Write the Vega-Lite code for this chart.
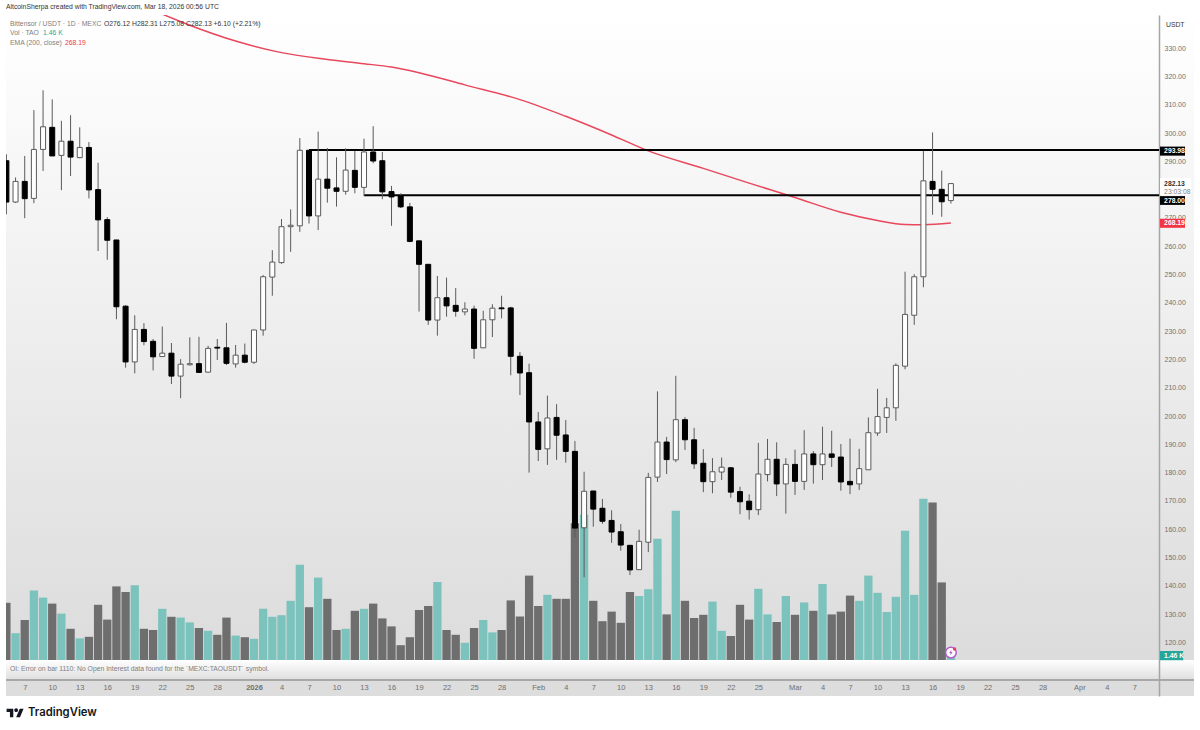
{
"$schema":"https://vega.github.io/schema/vega-lite/v6.json",
"autosize":"none",
"padding":{"left":6,"top":15,"right":6,"bottom":34},
"width":1188,
"height":681,
"background":"#ffffff",
"config":{
"font":"Liberation Sans",
"view":{"stroke":null,"fill":{"gradient":"linear","x1":0,"y1":0,"x2":0,"y2":1,"stops":[
{"offset":0,"color":"#ffffff"},
{"offset":0.947,"color":"#dcdcdc"},
{"offset":0.947,"color":"#ffffff"},
{"offset":0.975,"color":"#e0e0e0"},
{"offset":0.975,"color":"#a8a8a8"},
{"offset":0.978,"color":"#a8a8a8"},
{"offset":0.978,"color":"#dddddd"},
{"offset":1,"color":"#dddddd"}
]}}
},
"title":{"text":"AltcoinSherpa created with TradingView.com, Mar 18, 2026 00:56 UTC","anchor":"start","frame":"group","offset":4.5,"fontSize":6.8,"fontWeight":"normal","color":"#333333"},
"datasets":{
"candles":[
{"date":"2025-12-05","open":290.2,"high":292.5,"low":271.3,"close":275.6,"vol":14.3},
{"date":"2025-12-06","open":275.6,"high":284.3,"low":275.3,"close":282.9,"vol":6.7},
{"date":"2025-12-07","open":282.9,"high":291.9,"low":269.9,"close":276.8,"vol":10},
{"date":"2025-12-08","open":276.9,"high":308.1,"low":275.2,"close":294.2,"vol":17.4},
{"date":"2025-12-09","open":294.2,"high":315.1,"low":286.6,"close":302.2,"vol":15.6},
{"date":"2025-12-10","open":302,"high":311.9,"low":291.9,"close":291.9,"vol":14.1},
{"date":"2025-12-11","open":292.1,"high":304.3,"low":279.8,"close":297.1,"vol":11.6},
{"date":"2025-12-12","open":297.1,"high":306.3,"low":284.8,"close":291.5,"vol":7.8},
{"date":"2025-12-13","open":291.3,"high":302,"low":291.1,"close":294.9,"vol":5.4},
{"date":"2025-12-14","open":294.9,"high":296.8,"low":276.9,"close":279.9,"vol":5.8},
{"date":"2025-12-15","open":280,"high":289.5,"low":258.3,"close":269.3,"vol":13.8},
{"date":"2025-12-16","open":269.4,"high":270.3,"low":255.2,"close":262.1,"vol":10.1},
{"date":"2025-12-17","open":262.2,"high":262.2,"low":234.2,"close":238.6,"vol":18.4},
{"date":"2025-12-18","open":238.8,"high":239.2,"low":217.1,"close":219.1,"vol":17},
{"date":"2025-12-19","open":219.1,"high":235.6,"low":215.1,"close":230.6,"vol":18.7},
{"date":"2025-12-20","open":230.6,"high":232.8,"low":225,"close":226.3,"vol":7.8},
{"date":"2025-12-21","open":226.4,"high":227.2,"low":216.1,"close":220.9,"vol":7.5},
{"date":"2025-12-22","open":221,"high":231.6,"low":220.9,"close":222.2,"vol":12.8},
{"date":"2025-12-23","open":222.2,"high":225.8,"low":211.3,"close":214.1,"vol":10.8},
{"date":"2025-12-24","open":214.1,"high":220.1,"low":206.3,"close":218.3,"vol":10.6},
{"date":"2025-12-25","open":218.1,"high":227.8,"low":217.9,"close":218.5,"vol":9.4},
{"date":"2025-12-26","open":218.5,"high":228,"low":215.2,"close":215.4,"vol":8},
{"date":"2025-12-27","open":215.5,"high":224.8,"low":215.4,"close":223.9,"vol":7.3},
{"date":"2025-12-28","open":224.3,"high":227.2,"low":219.8,"close":224,"vol":6.3},
{"date":"2025-12-29","open":224.1,"high":232.9,"low":218,"close":218.6,"vol":10.6},
{"date":"2025-12-30","open":218.4,"high":225.1,"low":217.1,"close":221.5,"vol":6.1},
{"date":"2025-12-31","open":221.5,"high":225.6,"low":218.6,"close":219,"vol":5.7},
{"date":"2026-01-01","open":219,"high":230.5,"low":218.4,"close":230.4,"vol":5.3},
{"date":"2026-01-02","open":230.4,"high":249.8,"low":228.4,"close":249.2,"vol":12.8},
{"date":"2026-01-03","open":249.1,"high":258.6,"low":242.5,"close":254.4,"vol":10.8},
{"date":"2026-01-04","open":254.2,"high":269.6,"low":253.8,"close":266.9,"vol":11.2},
{"date":"2026-01-05","open":266.9,"high":273,"low":258,"close":267.4,"vol":14.8},
{"date":"2026-01-06","open":267.2,"high":298.2,"low":265.1,"close":293.9,"vol":23.8},
{"date":"2026-01-07","open":293.9,"high":293.9,"low":268,"close":270.7,"vol":13.2},
{"date":"2026-01-08","open":270.7,"high":300.5,"low":265.7,"close":283.7,"vol":20.6},
{"date":"2026-01-09","open":283.7,"high":294.7,"low":275.4,"close":280.5,"vol":15.3},
{"date":"2026-01-10","open":280.6,"high":291.4,"low":274,"close":279.4,"vol":7.5},
{"date":"2026-01-11","open":279.4,"high":294.6,"low":278.2,"close":286.9,"vol":7.8},
{"date":"2026-01-12","open":286.8,"high":293.7,"low":278.7,"close":280.8,"vol":12.3},
{"date":"2026-01-13","open":280.8,"high":298,"low":277.7,"close":293.3,"vol":12.8},
{"date":"2026-01-14","open":293.3,"high":302.4,"low":289.3,"close":290.1,"vol":14.1},
{"date":"2026-01-15","open":290.2,"high":293.3,"low":276.6,"close":279.2,"vol":10.4},
{"date":"2026-01-16","open":279.3,"high":281.3,"low":267.2,"close":277.4,"vol":8.4},
{"date":"2026-01-17","open":277.8,"high":278.7,"low":273.5,"close":273.9,"vol":3.7},
{"date":"2026-01-18","open":273.9,"high":275.3,"low":261.4,"close":261.7,"vol":5.7},
{"date":"2026-01-19","open":261.9,"high":261.9,"low":236.9,"close":253.6,"vol":12.5},
{"date":"2026-01-20","open":253.6,"high":253.7,"low":232.2,"close":233.9,"vol":13.5},
{"date":"2026-01-21","open":233.9,"high":249.5,"low":228.4,"close":241.8,"vol":19.5},
{"date":"2026-01-22","open":241.8,"high":248.9,"low":235.1,"close":238.9,"vol":7.5},
{"date":"2026-01-23","open":239.1,"high":245.2,"low":235.1,"close":237,"vol":6.3},
{"date":"2026-01-24","open":236.8,"high":240.2,"low":235.6,"close":237.8,"vol":4.3},
{"date":"2026-01-25","open":237.8,"high":239,"low":220.2,"close":223.9,"vol":8},
{"date":"2026-01-26","open":224.1,"high":237.2,"low":224,"close":234,"vol":10},
{"date":"2026-01-27","open":234,"high":239.5,"low":227.9,"close":238.1,"vol":6.9},
{"date":"2026-01-28","open":238.2,"high":242.5,"low":234.5,"close":237.9,"vol":7.5},
{"date":"2026-01-29","open":238.2,"high":238.6,"low":214.4,"close":221.1,"vol":14.9},
{"date":"2026-01-30","open":221.1,"high":222.6,"low":207.4,"close":215.2,"vol":10.9},
{"date":"2026-01-31","open":215.3,"high":218.5,"low":180,"close":197.9,"vol":21.1},
{"date":"2026-02-01","open":197.9,"high":201.4,"low":184.1,"close":188.2,"vol":13.5},
{"date":"2026-02-02","open":188.4,"high":207.2,"low":182.7,"close":199.3,"vol":16.3},
{"date":"2026-02-03","open":199.5,"high":204.2,"low":184.5,"close":193.2,"vol":15.3},
{"date":"2026-02-04","open":193.3,"high":198.6,"low":183.5,"close":187.5,"vol":15.3},
{"date":"2026-02-05","open":187.5,"high":191.2,"low":157.1,"close":160.4,"vol":34.2},
{"date":"2026-02-06","open":160.5,"high":180.3,"low":143,"close":173.4,"vol":36.3},
{"date":"2026-02-07","open":173.5,"high":173.5,"low":160.9,"close":167.1,"vol":14.8},
{"date":"2026-02-08","open":167.4,"high":170.7,"low":161.9,"close":162.8,"vol":9.7},
{"date":"2026-02-09","open":163.1,"high":166.7,"low":155.2,"close":159,"vol":12.1},
{"date":"2026-02-10","open":159.1,"high":161.8,"low":152.4,"close":154.4,"vol":9.3},
{"date":"2026-02-11","open":154.3,"high":154.4,"low":143.8,"close":145.6,"vol":17},
{"date":"2026-02-12","open":145.7,"high":159.8,"low":145.6,"close":155.7,"vol":16},
{"date":"2026-02-13","open":155.4,"high":179.9,"low":151.9,"close":178.3,"vol":17.7},
{"date":"2026-02-14","open":178.4,"high":208.7,"low":176.7,"close":190.8,"vol":30.3},
{"date":"2026-02-15","open":190.8,"high":192.6,"low":179.5,"close":184.6,"vol":11.4},
{"date":"2026-02-16","open":184.5,"high":214.2,"low":183.7,"close":198.7,"vol":37.3},
{"date":"2026-02-17","open":198.7,"high":199.6,"low":188,"close":191.6,"vol":14.8},
{"date":"2026-02-18","open":191.6,"high":195.8,"low":181.3,"close":183.1,"vol":10.5},
{"date":"2026-02-19","open":183.3,"high":188.3,"low":173.1,"close":176.8,"vol":11.3},
{"date":"2026-02-20","open":176.8,"high":185.1,"low":172.7,"close":180.3,"vol":14.6},
{"date":"2026-02-21","open":180.2,"high":185.3,"low":177.4,"close":181.9,"vol":7.3},
{"date":"2026-02-22","open":181.7,"high":182,"low":171.1,"close":173.1,"vol":6},
{"date":"2026-02-23","open":173.3,"high":175,"low":165.3,"close":169.7,"vol":13.8},
{"date":"2026-02-24","open":169.9,"high":172.3,"low":163.4,"close":166.9,"vol":10.1},
{"date":"2026-02-25","open":166.9,"high":190.5,"low":165,"close":179.5,"vol":17.8},
{"date":"2026-02-26","open":179.3,"high":191.9,"low":176.9,"close":184.7,"vol":11.4},
{"date":"2026-02-27","open":184.7,"high":190.7,"low":171.7,"close":176,"vol":9.5},
{"date":"2026-02-28","open":176,"high":185.1,"low":165.5,"close":182.9,"vol":16},
{"date":"2026-03-01","open":182.9,"high":188.1,"low":172.1,"close":176.9,"vol":11.3},
{"date":"2026-03-02","open":176.9,"high":195,"low":173.9,"close":186.6,"vol":14.4},
{"date":"2026-03-03","open":186.6,"high":187.6,"low":176.1,"close":182.8,"vol":12.3},
{"date":"2026-03-04","open":182.8,"high":196.2,"low":177.4,"close":186.6,"vol":19},
{"date":"2026-03-05","open":186.6,"high":194.8,"low":182,"close":185.4,"vol":11.4},
{"date":"2026-03-06","open":185.5,"high":190.1,"low":173.6,"close":176.7,"vol":12.1},
{"date":"2026-03-07","open":176.9,"high":192,"low":172.4,"close":175.7,"vol":16.1},
{"date":"2026-03-08","open":176,"high":188.4,"low":173.9,"close":181.4,"vol":14.8},
{"date":"2026-03-09","open":181,"high":199.5,"low":181,"close":194.1,"vol":21.1},
{"date":"2026-03-10","open":194,"high":209.6,"low":193,"close":199.8,"vol":16.8},
{"date":"2026-03-11","open":199.5,"high":206.4,"low":194,"close":202.9,"vol":12},
{"date":"2026-03-12","open":202.9,"high":218.6,"low":198.3,"close":217.9,"vol":15.8},
{"date":"2026-03-13","open":217.6,"high":251,"low":216.5,"close":235.9,"vol":32.3},
{"date":"2026-03-14","open":235.6,"high":250.1,"low":232.2,"close":249.2,"vol":16.3},
{"date":"2026-03-15","open":249.2,"high":293.6,"low":245.5,"close":283.1,"vol":40.3},
{"date":"2026-03-16","open":282.9,"high":300.2,"low":271.1,"close":280.1,"vol":39.4},
{"date":"2026-03-17","open":280.1,"high":286.7,"low":270.4,"close":275.7,"vol":19.4},
{"date":"2026-03-18","open":276.12,"high":282.31,"low":275.08,"close":282.13,"vol":1.46}
],
"ema":[
{"date":"2025-12-22","ema":342},
{"date":"2025-12-25","ema":338.1},
{"date":"2025-12-30","ema":332.5},
{"date":"2026-01-04","ema":328.4},
{"date":"2026-01-09","ema":326},
{"date":"2026-01-13","ema":324.5},
{"date":"2026-01-16","ema":323.3},
{"date":"2026-01-19","ema":321.3},
{"date":"2026-01-24","ema":317},
{"date":"2026-01-30","ema":311.8},
{"date":"2026-02-04","ema":305.9},
{"date":"2026-02-09","ema":299.3},
{"date":"2026-02-13","ema":293.7},
{"date":"2026-02-19","ema":287.5},
{"date":"2026-02-24","ema":282.3},
{"date":"2026-03-01","ema":277.2},
{"date":"2026-03-06","ema":272},
{"date":"2026-03-10","ema":269.1},
{"date":"2026-03-13","ema":267.7},
{"date":"2026-03-15","ema":267.6},
{"date":"2026-03-18","ema":268.19}
],
"levels":[
{"date":"2026-01-07","end":"2026-04-09T16:48:00Z","level":293.98},
{"date":"2026-01-13","end":"2026-04-09T16:48:00Z","level":278}
],
"tags":[
{"date":"2026-04-09T19:12:00Z","end":"2026-04-13T04:48:00Z","top":284.1,"bottom":278.1,"kind":"clock"},
{"date":"2026-04-09T19:12:00Z","end":"2026-04-12T12:43:00Z","top":295.2,"bottom":292,"kind":"level"},
{"date":"2026-04-09T19:12:00Z","end":"2026-04-12T12:43:00Z","top":277.7,"bottom":274.6,"kind":"level"},
{"date":"2026-04-09T19:12:00Z","end":"2026-04-12T12:43:00Z","top":269.7,"bottom":266.5,"kind":"ema"},
{"date":"2026-04-09T19:12:00Z","end":"2026-04-12T08:00:00Z","top":116.96,"bottom":113.7,"kind":"vol"}
],
"tagText":[
{"date":"2026-04-10T06:00:00Z","price":293.6,"label":"293.98","kind":"light"},
{"date":"2026-04-10T06:00:00Z","price":275.9,"label":"278.00","kind":"light"},
{"date":"2026-04-10T06:00:00Z","price":268.1,"label":"268.19","kind":"light"},
{"date":"2026-04-10T06:00:00Z","price":115.3,"label":"1.46 K","kind":"light"},
{"date":"2026-04-10T06:00:00Z","price":282,"label":"282.13","kind":"dark"}
],
"notes":[
{"date":"2025-12-05T09:36:00Z","price":338.5,"label":"Bittensor / USDT · 1D · MEXC","kind":"muted"},
{"date":"2025-12-15T15:30:00Z","price":338.5,"label":"O276.12  H282.31  L275.08  C282.13  +6.10 (+2.21%)","kind":"dark"},
{"date":"2025-12-05T09:36:00Z","price":335.2,"label":"Vol · TAO","kind":"muted"},
{"date":"2025-12-09T00:00:00Z","price":335.2,"label":"1.46 K","kind":"teal"},
{"date":"2025-12-05T09:36:00Z","price":331.7,"label":"EMA (200, close)","kind":"muted"},
{"date":"2025-12-11T09:30:00Z","price":331.7,"label":"268.19","kind":"red"},
{"date":"2026-04-10T11:00:00Z","price":338.2,"label":"USDT","kind":"dark"},
{"date":"2026-04-10T06:00:00Z","price":279.2,"label":"23:03:08","kind":"muted"},
{"date":"2025-12-05T09:36:00Z","price":110.6,"label":"OI: Error on bar 1110: No Open Interest data found for the `MEXC:TAOUSDT` symbol.","kind":"muted"}
]
},
"resolve":{"scale":{"y":"independent"}},
"encoding":{
"x":{"field":"date","type":"temporal","title":null,
"scale":{"type":"utc","padding":0,"domain":["2025-12-04T23:00:00Z","2026-04-13T12:14:00Z"]},
"axis":{"orient":"bottom","offset":-16,"domain":false,"ticks":false,"grid":false,"labelPadding":3,"labelFontSize":7.5,"labelColor":"#707070","labelOverlap":false,"labelFlush":false,
"labelFontWeight":{"expr":"utcmonth(datum.value)==0&&utcdate(datum.value)==1?'bold':'normal'"},
"labelExpr":"utcdate(datum.value)==1?(utcmonth(datum.value)==0?utcyear(datum.value)+'':utcFormat(datum.value,'%b')):utcdate(datum.value)+''",
"values":["2025-12-07","2025-12-10","2025-12-13","2025-12-16","2025-12-19","2025-12-22","2025-12-25","2025-12-28","2026-01-01","2026-01-04","2026-01-07","2026-01-10","2026-01-13","2026-01-16","2026-01-19","2026-01-22","2026-01-25","2026-01-28","2026-02-01","2026-02-04","2026-02-07","2026-02-10","2026-02-13","2026-02-16","2026-02-19","2026-02-22","2026-02-25","2026-03-01","2026-03-04","2026-03-07","2026-03-10","2026-03-13","2026-03-16","2026-03-19","2026-03-22","2026-03-25","2026-03-28","2026-04-01","2026-04-04","2026-04-07"]}}
},
"layer":[
{"data":{"name":"candles"},
"mark":{"type":"bar","size":8.3,"clip":true},
"encoding":{
"y":{"field":"vol","type":"quantitative","title":null,"axis":null,"scale":{"domain":[-9,161.25],"nice":false,"zero":false}},
"y2":{"datum":0},
"color":{"condition":{"test":"datum.close>=datum.open","value":"#7cc3bd"},"value":"#6e6e6e"}}},
{"layer":[
{"data":{"name":"ema"},
"mark":{"type":"line","color":"#e8475c","strokeWidth":1.5,"interpolate":"monotone","clip":true},
"encoding":{"y":{"field":"ema","type":"quantitative","title":null,
"scale":{"domain":[101.06,341.7],"nice":false,"zero":false},
"axis":{"orient":"right","offset":-35,"domainColor":"#a5a5a5","domainWidth":1.5,"ticks":false,"grid":false,"labelPadding":5,"labelFontSize":7,"labelColor":"#707070","labelOverlap":false,"labelFlush":false,"format":".2f","tickCount":30,
"values":[120,130,140,150,160,170,180,190,200,210,220,230,240,250,260,270,290,300,310,320,330]}}}},
{"data":{"name":"levels"},
"mark":{"type":"rule","color":"#000000","strokeWidth":2},
"encoding":{"x2":{"field":"end"},"y":{"field":"level","type":"quantitative"}}},
{"data":{"name":"candles"},
"mark":{"type":"rule","color":"#5a5a5a","strokeWidth":1,"clip":true},
"encoding":{"y":{"field":"low","type":"quantitative"},"y2":{"field":"high"}}},
{"data":{"name":"candles"},
"mark":{"type":"bar","size":5,"strokeWidth":1,"clip":true},
"encoding":{"y":{"field":"open","type":"quantitative"},"y2":{"field":"close"},
"fill":{"condition":{"test":"datum.close>=datum.open","value":"#ffffff"},"value":"#000000"},
"stroke":{"condition":{"test":"datum.close>=datum.open","value":"#5a5a5a"},"value":"#000000"}}},
{"data":{"name":"tags"},
"mark":{"type":"rect"},
"encoding":{"x2":{"field":"end"},"y":{"field":"top","type":"quantitative"},"y2":{"field":"bottom"},
"fill":{"field":"kind","type":"nominal","legend":null,"scale":{"domain":["clock","level","ema","vol"],"range":["#ffffff","#000000","#f23645","#26a69a"]}}}},
{"data":{"name":"tagText"},
"mark":{"type":"text","align":"left","baseline":"middle","fontSize":6.8,"fontWeight":"bold"},
"encoding":{"y":{"field":"price","type":"quantitative"},"text":{"field":"label"},
"color":{"field":"kind","type":"nominal","legend":null,"scale":{"domain":["light","dark","muted","teal","red"],"range":["#ffffff","#333333","#808080","#26a69a","#f23645"]}}}},
{"data":{"name":"notes"},
"mark":{"type":"text","align":"left","baseline":"middle","fontSize":6.8},
"encoding":{"y":{"field":"price","type":"quantitative"},"text":{"field":"label"},
"color":{"field":"kind","type":"nominal","legend":null,"scale":{"domain":["light","dark","muted","teal","red"],"range":["#ffffff","#333333","#808080","#26a69a","#f23645"]}}}},
{"data":{"values":[{"date":"2026-03-18","price":116.4}]},
"mark":{"type":"point","shape":"circle","size":113,"filled":false,"fill":"#ffffff","fillOpacity":1,"stroke":"#b25cd0","strokeWidth":1.5},
"encoding":{"y":{"field":"price","type":"quantitative"}}},
{"data":{"values":[{"date":"2026-03-18","price":116.4}]},
"mark":{"type":"point","shape":"M0.2 -1L-0.6 0.2L-0.05 0.2L-0.2 1L0.6 -0.2L0.05 -0.2Z","size":36,"filled":true,"color":"#b25cd0","opacity":1},
"encoding":{"y":{"field":"price","type":"quantitative"}}},
{"data":{"values":[{"date":"2026-03-18T09:36:00Z","price":117.7}]},
"mark":{"type":"point","shape":"circle","size":12,"filled":true,"color":"#e63e6d","opacity":1},
"encoding":{"y":{"field":"price","type":"quantitative"}}},
{"data":{"values":[{"date":"2025-12-05T22:48:00Z","price":95.05}]},
"mark":{"type":"point","shape":"M-0.211 0.507L-0.606 0.507L-0.606 -0.113L-1 -0.113L-1 -0.507L-0.211 -0.507ZM0.577 0.507L0.127 0.507L0.549 -0.507L1 -0.507ZM-0.098 -0.338a0.225 0.225 0 1 0 0.45 0a0.225 0.225 0 1 0 -0.45 0Z","size":289,"filled":true,"color":"#131722","opacity":1,"clip":false},
"encoding":{"y":{"field":"price","type":"quantitative"}}},
{"data":{"values":[{"date":"2025-12-07T08:38:00Z","price":95.05,"label":"TradingView"}]},
"mark":{"type":"text","align":"left","baseline":"middle","font":"Inter","fontSize":11.3,"fontWeight":600,"color":"#131722"},
"encoding":{"y":{"field":"price","type":"quantitative"},"text":{"field":"label"}}}
]}
]
}
